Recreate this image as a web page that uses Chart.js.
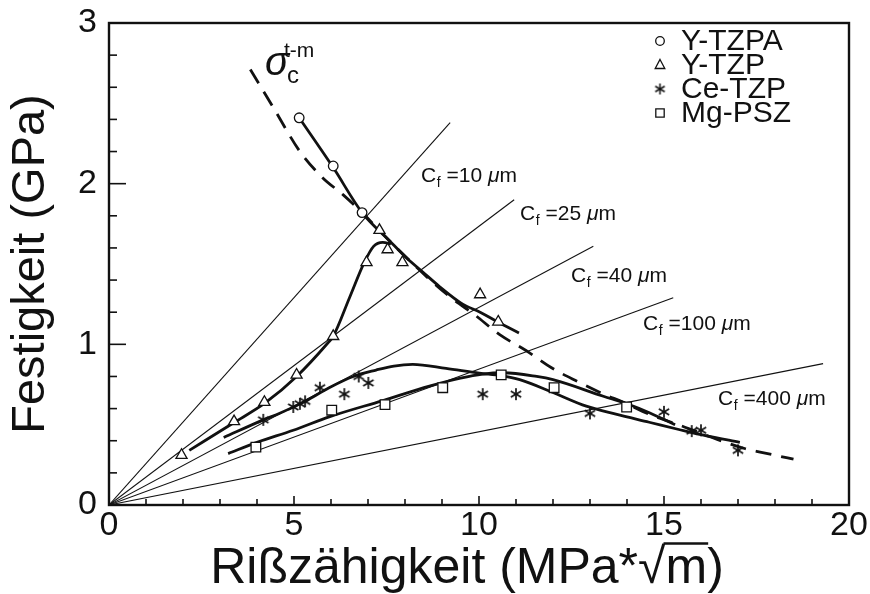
<!DOCTYPE html>
<html>
<head>
<meta charset="utf-8">
<script src="https://cdn.jsdelivr.net/npm/chart.js@4.4.1/dist/chart.umd.min.js"></script>
<style>
  html, body { margin:0; padding:0; background:#fff; }
  canvas { display:block; }
</style>
</head>
<body>
<canvas id="chart" width="870" height="594"></canvas>
<script>
/* Festigkeit vs. Rißzähigkeit — ZrO2 ceramics */

const INK = '#111';
const FONT = '"Liberation Sans", Arial, Helvetica, sans-serif';

// constant flaw size lines, from the origin to their end point
const cfNames = ['10', '25', '40', '100', '400'];
const cfEndX = [9.22, 10.95, 13.09, 15.25, 19.3];
const cfEndY = [2.38, 1.90, 1.61, 1.29, 0.88];

// sigma_c^(t-m) limit curve (dashed)
const sigmaX = [3.82, 4.45, 5.16, 5.76, 6.33, 6.84, 7.6, 8.59, 9.3, 9.85, 10.56, 11.28, 11.96, 12.65, 13.37, 13.9, 14.6, 15.5, 16.3, 17.2, 17.7, 18.5];
const sigmaY = [2.71, 2.47, 2.20, 2.04, 1.93, 1.82, 1.64, 1.42, 1.28, 1.19, 1.06, 0.96, 0.854, 0.77, 0.69, 0.64, 0.565, 0.49, 0.42, 0.35, 0.325, 0.285];

// fitted curves
const tzpaFitX = [5.14, 6.06, 6.84, 7.58, 8.03, 8.48, 8.93, 9.56, 10.03, 10.5, 11.08];
const tzpaFitY = [2.41, 2.10, 1.82, 1.645, 1.54, 1.45, 1.36, 1.25, 1.20, 1.14, 1.07];
const tzpFitX = [2.17, 3.36, 4.22, 5.07, 5.92, 6.06, 6.5, 6.9, 7.15, 7.4, 7.62];
const tzpFitY = [0.34, 0.51, 0.635, 0.80, 1.01, 1.05, 1.29, 1.51, 1.61, 1.635, 1.625];
const ceFitX = [3.1, 4.17, 4.6, 5.3, 5.95, 6.6, 7.22, 7.7, 8.21, 9.11, 10.01, 10.6, 11.1, 12.0, 12.9, 13.7, 14.6, 15.4, 16.15, 17.05];
const ceFitY = [0.42, 0.53, 0.57, 0.645, 0.73, 0.80, 0.84, 0.865, 0.875, 0.85, 0.82, 0.805, 0.78, 0.70, 0.615, 0.565, 0.515, 0.47, 0.43, 0.39];
const mgFitX = [3.22, 4.0, 4.98, 5.97, 7.4, 8.66, 9.5, 10.1, 10.66, 11.56, 12.0, 13.36, 14.0, 14.62, 15.3];
const mgFitY = [0.32, 0.39, 0.465, 0.55, 0.65, 0.74, 0.79, 0.815, 0.823, 0.80, 0.78, 0.677, 0.63, 0.573, 0.50];

// measured points
const ytzpaX = [5.14, 6.06, 6.84];
const ytzpaY = [2.41, 2.11, 1.82];
const ytzpX = [1.96, 3.38, 4.2, 5.07, 6.06, 6.96, 7.31, 7.53, 7.93, 10.03, 10.52];
const ytzpY = [0.31, 0.52, 0.64, 0.81, 1.05, 1.51, 1.71, 1.59, 1.51, 1.31, 1.14];
const ceX = [4.17, 4.98, 5.16, 5.3, 5.7, 6.36, 6.75, 7.01, 10.1, 11.0, 13.0, 15.0, 15.75, 16.0, 17.0];
const ceY = [0.53, 0.61, 0.63, 0.645, 0.73, 0.69, 0.80, 0.76, 0.69, 0.69, 0.57, 0.58, 0.46, 0.465, 0.34];
const mgX = [3.97, 6.02, 7.46, 9.02, 10.6, 12.03, 13.99];
const mgY = [0.36, 0.59, 0.625, 0.73, 0.81, 0.73, 0.61];

const seriesNames = ['Y-TZPA', 'Y-TZP', 'Ce-TZP', 'Mg-PSZ'];

const pts = (xs, ys) => xs.map((x, i) => ({ x, y: ys[i] }));

// six-armed asterisk used as point style for Ce-TZP
function asterisk(r, lw){
  const c = document.createElement('canvas');
  c.width = c.height = Math.ceil(2 * r + 2);
  const g = c.getContext('2d');
  g.strokeStyle = INK; g.lineWidth = lw; g.lineCap = 'butt';
  g.translate(c.width / 2, c.height / 2);
  [90, 30, 150].forEach(a => {
    const t = a * Math.PI / 180;
    g.beginPath();
    g.moveTo(-Math.cos(t) * r, -Math.sin(t) * r);
    g.lineTo(Math.cos(t) * r, Math.sin(t) * r);
    g.stroke();
  });
  return c;
}
const STAR = asterisk(6, 1.7);
const STAR_SMALL = asterisk(5.5, 1.5);

const curve = (data, extra) => Object.assign({
  data, showLine:true, borderColor:INK, borderWidth:2.8, pointRadius:0,
  cubicInterpolationMode:'monotone', fill:false, order:2
}, extra || {});

const marks = (data, style, radius) => ({
  data, showLine:false, pointStyle:style, pointRadius:radius,
  pointBorderColor:INK, pointBackgroundColor:'#fff', pointBorderWidth:1.3, order:0
});

const datasets = [];
cfNames.forEach((n, i) => {
  datasets.push({
    data: [{ x:0, y:0 }, { x:cfEndX[i], y:cfEndY[i] }],
    showLine:true, borderColor:INK, borderWidth:1.1, pointRadius:0, order:3
  });
});
datasets.push(curve(pts(sigmaX, sigmaY), { borderDash:[16, 10], borderWidth:2.8 }));
datasets.push(curve(pts(tzpaFitX, tzpaFitY)));
datasets.push(curve(pts(tzpFitX, tzpFitY)));
datasets.push(curve(pts(ceFitX, ceFitY)));
datasets.push(curve(pts(mgFitX, mgFitY)));
datasets.push(marks(pts(ytzpaX, ytzpaY), 'circle', 4.8));
datasets.push(marks(pts(ytzpX, ytzpY), 'triangle', 6.4));
datasets.push(marks(pts(ceX, ceY), STAR, 6));
datasets.push(marks(pts(mgX, mgY), 'rect', 6.8));

// frame plus inward tick marks
const framePlugin = {
  id:'frame',
  afterDatasetsDraw(chart){
    const { ctx, chartArea:a, scales:{ x, y } } = chart;
    ctx.save();
    ctx.strokeStyle = INK;
    ctx.lineWidth = 2.4;
    ctx.strokeRect(a.left, a.top, a.right - a.left, a.bottom - a.top);
    ctx.lineWidth = 1.6;
    x.ticks.forEach(t => {
      const px = x.getPixelForValue(t.value);
      const len = Math.round(t.value) % 5 === 0 ? 9 : 6;
      ctx.beginPath(); ctx.moveTo(px, a.bottom); ctx.lineTo(px, a.bottom - len); ctx.stroke();
    });
    y.ticks.forEach(t => {
      const py = y.getPixelForValue(t.value);
      const len = Math.abs(t.value - Math.round(t.value)) < 1e-6 ? 17 : 8;
      ctx.beginPath(); ctx.moveTo(a.left, py); ctx.lineTo(a.left + len, py); ctx.stroke();
    });
    ctx.restore();
  }
};

function drawMarker(ctx, kind, cx, cy){
  ctx.save();
  ctx.strokeStyle = INK; ctx.fillStyle = '#fff'; ctx.lineWidth = 1.3;
  ctx.beginPath();
  if (kind === 'circle') {
    ctx.arc(cx, cy, 4.3, 0, Math.PI * 2);
  } else if (kind === 'triangle') {
    ctx.moveTo(cx, cy - 5.5); ctx.lineTo(cx + 4.8, cy + 3.5); ctx.lineTo(cx - 4.8, cy + 3.5); ctx.closePath();
  } else if (kind === 'rect') {
    ctx.rect(cx - 4.2, cy - 4.2, 8.4, 8.4);
  }
  if (kind === 'star') {
    ctx.drawImage(STAR_SMALL, cx - STAR_SMALL.width / 2, cy - STAR_SMALL.height / 2);
  } else {
    ctx.fill(); ctx.stroke();
  }
  ctx.restore();
}

// labels, legend and the x axis title
const textPlugin = {
  id:'texts',
  afterDraw(chart, args, opts){
    const { ctx } = chart;
    ctx.save();
    ctx.fillStyle = INK;
    ctx.textBaseline = 'alphabetic';
    ctx.textAlign = 'left';

    // C_f labels
    opts.cfPos.forEach((p, i) => {
      let x = p[0];
      const y = p[1];
      ctx.font = '21px ' + FONT;
      ctx.fillText('C', x, y);
      x += ctx.measureText('C').width + 0.5;
      ctx.font = '14px ' + FONT;
      ctx.fillText('f', x, y + 5);
      x += ctx.measureText('f').width + 6;
      ctx.font = '21px ' + FONT;
      const s = '=' + cfNames[i] + ' ';
      ctx.fillText(s, x, y);
      x += ctx.measureText(s).width;
      ctx.font = 'italic 21px ' + FONT;
      ctx.fillText('\u03bc', x, y);
      x += ctx.measureText('\u03bc').width;
      ctx.font = '21px ' + FONT;
      ctx.fillText('m', x, y);
    });

    // sigma_c^(t-m)
    const [sx, sy] = opts.sigmaPos;
    ctx.font = 'italic 40px ' + FONT;
    ctx.fillText('\u03c3', sx, sy);
    ctx.font = '21px ' + FONT;
    ctx.fillText('t-m', sx + 19, sy - 18);
    ctx.font = '24px ' + FONT;
    ctx.fillText('c', sx + 22, sy + 8);

    // legend
    const kinds = ['circle', 'triangle', 'star', 'rect'];
    ctx.font = '30px ' + FONT;
    ctx.textBaseline = 'middle';
    seriesNames.forEach((n, i) => {
      const ry = opts.legendTop + i * opts.legendStep;
      drawMarker(ctx, kinds[i], opts.legendX, ry);
      ctx.fillText(n, opts.legendX + 21, ry + 1);
    });

    // x axis title with overlined root
    ctx.font = '50px ' + FONT;
    ctx.textBaseline = 'alphabetic';
    const p1 = 'Rißzähigkeit (MPa*\u221a', p2 = 'm', p3 = ')';
    const w1 = ctx.measureText(p1).width, w2 = ctx.measureText(p2).width, w3 = ctx.measureText(p3).width;
    const x0 = opts.xTitleCenter - (w1 + w2 + w3) / 2;
    const by = opts.xTitleBase;
    ctx.fillText(p1, x0, by);
    ctx.fillText(p2, x0 + w1, by);
    ctx.fillText(p3, x0 + w1 + w2, by);
    ctx.lineWidth = 2.6;
    ctx.strokeStyle = INK;
    ctx.beginPath();
    ctx.moveTo(x0 + w1 - 2, by - 39.5);
    ctx.lineTo(x0 + w1 + w2 + 1, by - 39.5);
    ctx.stroke();
    ctx.restore();
  }
};

new Chart(document.getElementById('chart'), {
  type:'scatter',
  data:{ datasets },
  options:{
    responsive:false,
    animation:false,
    events:[],
    layout:{ padding:{ top:23, right:21, left:0, bottom:0 } },
    plugins:{
      legend:{ display:false },
      tooltip:{ enabled:false },
      texts:{
        cfPos:[[421, 182], [520, 220], [571, 282], [643, 330], [718, 405]],
        sigmaPos:[265, 75],
        legendX:660, legendTop:41, legendStep:24,
        xTitleCenter:467, xTitleBase:583
      }
    },
    scales:{
      x:{
        type:'linear', min:0, max:20,
        grid:{ display:false, drawTicks:false },
        border:{ display:false },
        ticks:{
          stepSize:1, autoSkip:false, maxRotation:0, padding:0,
          color:INK, font:{ family:FONT, size:34 },
          callback:v => (Math.round(v) % 5 === 0 ? String(Math.round(v)) : '')
        },
        afterFit(scale){
          scale.height = 89;
          scale.paddingLeft = 0; scale.paddingRight = 0;
        }
      },
      y:{
        type:'linear', min:0, max:3,
        grid:{ display:false, drawTicks:false },
        border:{ display:false },
        ticks:{
          stepSize:0.2, autoSkip:false, padding:12,
          color:INK, font:{ family:FONT, size:34 },
          callback:v => (Math.abs(v - Math.round(v)) < 1e-6 ? String(Math.round(v)) : '')
        },
        title:{
          display:true, text:'Festigkeit (GPa)', color:INK,
          font:{ family:FONT, size:47 }, padding:{ top:3, bottom:0 }
        },
        afterFit(scale){
          scale.width = 109;
          scale.paddingTop = 0; scale.paddingBottom = 0;
        }
      }
    }
  },
  plugins:[framePlugin, textPlugin]
});
</script>
</body>
</html>
